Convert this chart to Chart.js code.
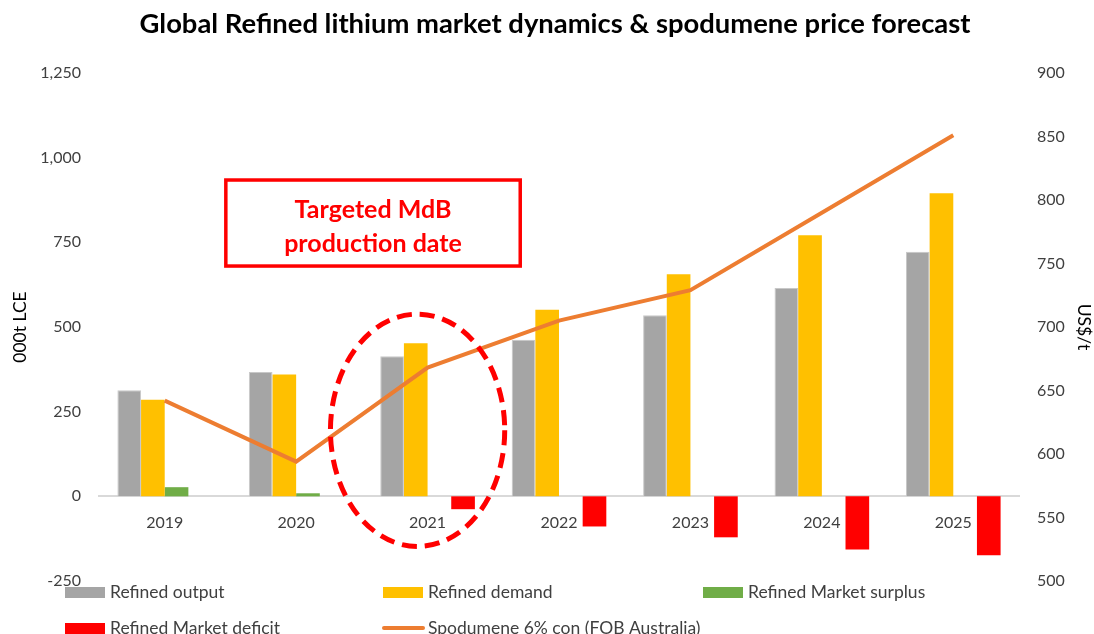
<!DOCTYPE html>
<html>
<head>
<meta charset="utf-8">
<script src="https://cdn.jsdelivr.net/npm/chart.js@4/dist/chart.umd.min.js"></script>
<style>
html,body{margin:0;padding:0;background:#fff;}
#wrap{width:1094px;height:634px;position:relative;}
</style>
</head>
<body>
<div id="wrap"><canvas id="c" width="1094" height="634"></canvas></div>
<script>
const categories = ['2019','2020','2021','2022','2023','2024','2025'];
const refinedOutput = [313, 367, 414, 462, 535, 615, 722];
const refinedDemand = [285, 360, 452, 551, 656, 771, 895];
const marketSurplus = [27, 9, null, null, null, null, null];
const marketDeficit = [null, null, -38, -89, -121, -157, -174];
const spodumenePrice = [642, 594, 668, 705, 729, 790, 851];
const leftTicks = [-250, 0, 250, 500, 750, 1000, 1250];
const rightTicks = [500, 550, 600, 650, 700, 750, 800, 850, 900];

const FONT = 'Lato, "Open Sans", sans-serif';
const TXT = '#404040';
const TITLE = 'Global Refined lithium market dynamics & spodumene price forecast';

const overlay = {
  id: 'overlay',
  afterDatasetsDraw(chart) {
    const ctx = chart.ctx, x = chart.scales.x, y = chart.scales.y;
    ctx.save();
    // dashed ellipse around 2021
    const cx = x.getPixelForValue(1.924), cy = y.getPixelForValue(195);
    const rx = x.getPixelForValue(2.663) - x.getPixelForValue(2);
    const ry = y.getPixelForValue(0) - y.getPixelForValue(343);
    ctx.beginPath();
    ctx.ellipse(cx, cy, rx, ry, 0, 0, Math.PI * 2);
    ctx.setLineDash([15, 8]);
    ctx.lineWidth = 5;
    ctx.strokeStyle = '#ff0000';
    ctx.stroke();
    ctx.setLineDash([]);
    // annotation box
    const bx1 = x.getPixelForValue(0.465), bx2 = x.getPixelForValue(2.705);
    const by1 = y.getPixelForValue(934), by2 = y.getPixelForValue(680);
    ctx.fillStyle = '#fff';
    ctx.fillRect(bx1, by1, bx2 - bx1, by2 - by1);
    ctx.lineWidth = 3.5;
    ctx.strokeStyle = '#ff0000';
    ctx.strokeRect(bx1, by1, bx2 - bx1, by2 - by1);
    ctx.fillStyle = '#ff0000';
    ctx.font = 'bold 25px ' + FONT;
    ctx.textAlign = 'center';
    ctx.textBaseline = 'middle';
    const mx = (bx1 + bx2) / 2, my = (by1 + by2) / 2;
    ctx.fillText('Targeted MdB', mx, my - 13);
    ctx.fillText('production date', mx, my + 21);
    ctx.restore();
  },
  afterDraw(chart) {
    const ctx = chart.ctx;
    ctx.save();
    // title, fitted to the reference width
    ctx.font = 'bold 22px ' + FONT;
    const w = ctx.measureText(TITLE).width;
    const fs = Math.min(30, 22 * 830 / w);
    ctx.font = 'bold ' + fs.toFixed(1) + 'px ' + FONT;
    ctx.fillStyle = '#000';
    ctx.textAlign = 'center';
    ctx.textBaseline = 'middle';
    ctx.fillText(TITLE, 555, 24);
    // legend
    const items = chart.data.datasets;
    const pos = [[65, 592], [383, 592], [703, 592], [65, 628], [383, 628]];
    ctx.font = '17.5px ' + FONT;
    ctx.textAlign = 'left';
    items.forEach((ds, i) => {
      const [lx, ly] = pos[i];
      if (ds.type === 'line') {
        ctx.strokeStyle = ds.borderColor;
        ctx.lineWidth = 4;
        ctx.lineCap = 'round';
        ctx.beginPath();
        ctx.moveTo(lx + 1, ly);
        ctx.lineTo(lx + 40, ly);
        ctx.stroke();
      } else {
        ctx.fillStyle = ds.backgroundColor;
        ctx.fillRect(lx, ly - 5, 40, 11);
      }
      ctx.fillStyle = TXT;
      ctx.fillText(ds.label, lx + 45, ly);
    });
    ctx.restore();
  }
};

new Chart(document.getElementById('c'), {
  data: {
    labels: categories,
    datasets: [
      { type: 'bar', label: 'Refined output', data: refinedOutput, backgroundColor: '#a5a5a5', borderColor: '#c8c8c8', borderWidth: 1, yAxisID: 'y', order: 2 },
      { type: 'bar', label: 'Refined demand', data: refinedDemand, backgroundColor: '#ffc000', yAxisID: 'y', order: 2 },
      { type: 'bar', label: 'Refined Market surplus', data: marketSurplus, backgroundColor: '#70ad47', yAxisID: 'y', order: 2 },
      { type: 'bar', label: 'Refined Market deficit', data: marketDeficit, backgroundColor: '#ff0000', yAxisID: 'y', order: 2 },
      { type: 'line', label: 'Spodumene 6% con (FOB Australia)', data: spodumenePrice, borderColor: '#ed7d31', backgroundColor: '#ed7d31', borderWidth: 4, pointRadius: 0, tension: 0, yAxisID: 'y1', order: 1 }
    ]
  },
  options: {
    responsive: false,
    animation: false,
    datasets: { bar: { categoryPercentage: 0.72, barPercentage: 1.0 } },
    layout: { padding: { top: 73, bottom: 53, left: 0, right: 0 } },
    plugins: { legend: { display: false }, title: { display: false }, tooltip: { enabled: false } },
    scales: {
      x: {
        position: { y: 0 },
        grid: { display: false },
        border: { display: true, color: '#d9d9d9', width: 2 },
        ticks: { color: TXT, font: { family: FONT, size: 16 }, padding: 9 }
      },
      y: {
        position: 'left',
        min: -250, max: 1250,
        afterFit(s) { s.width = 99; },
        afterBuildTicks(s) { s.ticks = leftTicks.map(v => ({ value: v })); },
        grid: { display: false },
        border: { display: false },
        title: { display: true, text: '000t LCE', color: '#000', font: { family: FONT, size: 17.5 }, padding: { top: 10, bottom: 0 } },
        ticks: { color: TXT, font: { family: FONT, size: 16 }, padding: 10, callback: v => v.toLocaleString('en-US') }
      },
      y1: {
        position: 'right',
        min: 500, max: 900,
        afterFit(s) { s.width = 75; },
        afterBuildTicks(s) { s.ticks = rightTicks.map(v => ({ value: v })); },
        grid: { display: false },
        border: { display: false },
        title: { display: true, text: 'US$/t', color: '#000', font: { family: FONT, size: 17.5 }, padding: { top: 0, bottom: 0 } },
        ticks: { color: TXT, font: { family: FONT, size: 16 }, padding: 10 }
      }
    }
  },
  plugins: [overlay]
});
</script>
</body>
</html>
